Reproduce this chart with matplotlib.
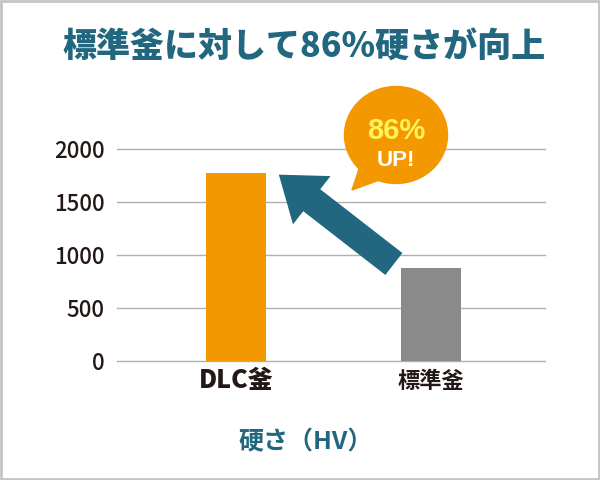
import matplotlib.pyplot as plt
from matplotlib.patches import Ellipse, Polygon, Rectangle

plt.rcParams['font.family'] = ['Noto Sans CJK JP', 'DejaVu Sans']

# data
categories = ['DLC釜', '標準釜']
hardness = [1780, 875]
yticks = [0, 500, 1000, 1500, 2000]

title_text = '標準釜に対して86%硬さが向上'
xlabel_text = '硬さ（HV）'
bubble_top = '86%'
bubble_bottom = 'UP!'

# colours
c_orange = '#f39800'
c_gray = '#8a8a8a'
c_teal = '#21677f'
c_grid = '#b0b0b0'
c_text = '#231815'

W, H = 600, 480
fig = plt.figure(figsize=(W / 100, H / 100), dpi=100)
fig.patch.set_facecolor('white')


def px_box(x0, y0, x1, y1):
    # pixel box (top-left origin) -> figure fraction
    return [x0 / W, 1 - y1 / H, (x1 - x0) / W, (y1 - y0) / H]


ax = fig.add_axes(px_box(117, 149.3, 545, 360.7))
xpos = list(range(len(categories)))
ax.bar(xpos, hardness, width=0.31, color=[c_orange, c_gray], zorder=3)
ax.set_xlim(-0.61, 1.585)
ax.set_ylim(0, 2000)
ax.set_yticks(yticks)
ax.set_yticklabels([str(t) for t in yticks], fontsize=16, color=c_text,
                   fontweight='medium')
ax.grid(axis='y', color=c_grid, linewidth=1, zorder=0)
for gl in ax.get_ygridlines():
    gl.set_clip_on(False)
ax.tick_params(axis='y', length=0, pad=9)
ax.tick_params(axis='x', length=0)
ax.set_xticks(xpos)
ax.set_xticklabels([])
for s in ax.spines.values():
    s.set_visible(False)

# category labels
ax.text(0, -0.09, categories[0], transform=ax.get_xaxis_transform(),
        ha='center', va='center', fontsize=18, fontweight='black', color=c_text)
ax.text(1, -0.1, categories[1], transform=ax.get_xaxis_transform(),
        ha='center', va='center', fontsize=16, fontweight='bold', color=c_text)

# arrow from the standard bar up to the DLC bar
ax.annotate('', xy=(0.22, hardness[0] - 20), xytext=(0.81, hardness[1] + 40),
            arrowprops=dict(arrowstyle='simple,head_length=1.5,head_width=2.2,tail_width=1.0',
                            mutation_scale=20, color=c_teal, linewidth=0,
                            shrinkA=0, shrinkB=0),
            zorder=5, annotation_clip=False)

# overlay in pixel coords for bubble, title, border
ov = fig.add_axes([0, 0, 1, 1])
ov.set_xlim(0, W)
ov.set_ylim(H, 0)
ov.axis('off')
ov.patch.set_alpha(0)

ov.add_patch(Ellipse((396, 135), 103, 97, color=c_orange, zorder=4))
ov.add_patch(Polygon([[362, 160], [352, 190], [385, 178]], closed=True,
                     color=c_orange, zorder=4))
ov.text(396, 131, bubble_top, ha='center', va='center', fontsize=21,
        fontweight='bold', color='#fff25a', zorder=5,
        family=['Liberation Sans', 'DejaVu Sans'])
ov.text(396, 161, bubble_bottom, ha='center', va='center', fontsize=16,
        fontweight='bold', color='white', zorder=5,
        family=['Liberation Sans', 'DejaVu Sans'])

ov.text(304, 47, title_text, ha='center', va='center', fontsize=24.5,
        fontweight='black', color=c_teal)
ov.text(306, 442, xlabel_text, ha='center', va='center', fontsize=18,
        fontweight='bold', color=c_teal)

ov.add_patch(Rectangle((1, 1), W - 2, H - 2, fill=False, edgecolor='#c4c4c4',
                       linewidth=2))

fig.savefig('out.png', dpi=100, facecolor='white')
